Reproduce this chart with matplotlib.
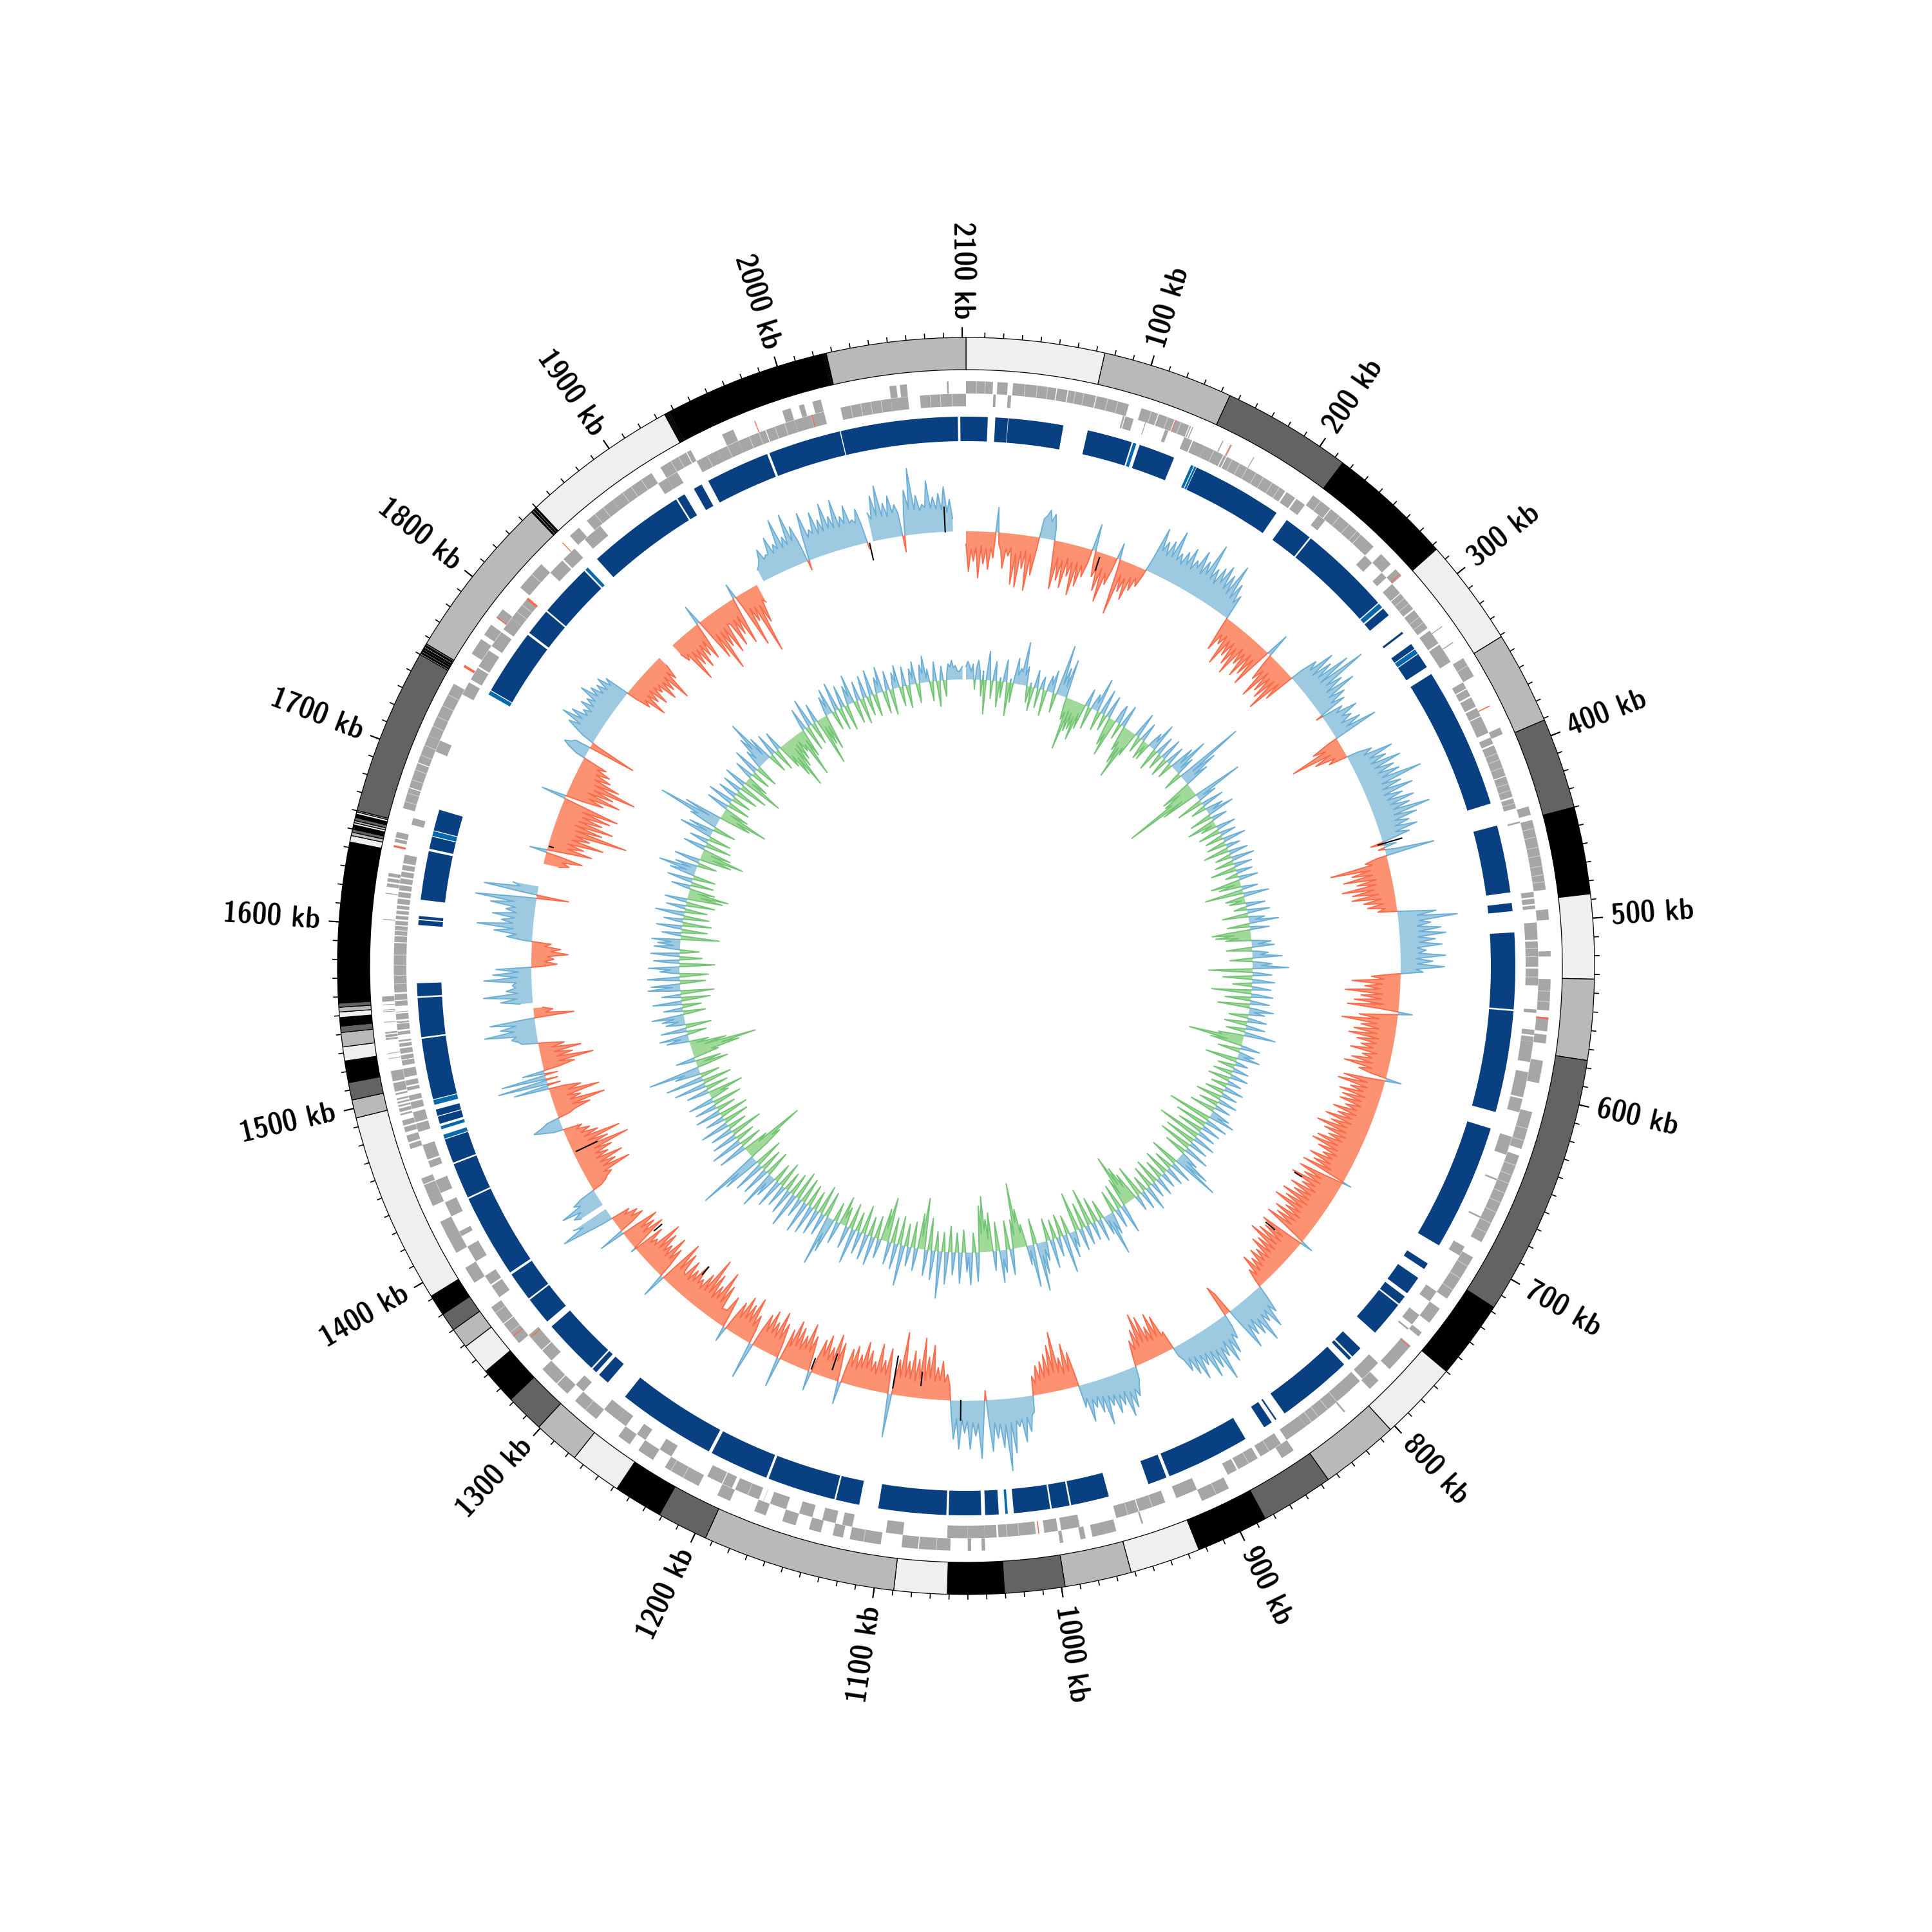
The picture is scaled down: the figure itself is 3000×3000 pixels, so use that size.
#!/bin/env python3

import numpy as np
import matplotlib
matplotlib.use('Agg')
import matplotlib.pyplot as plt

plt.rcParams['font.family'] = ['Latin Modern Sans Demi Cond', 'DejaVu Sans']

genome_kb = 2102.0
n = float('nan')

# outer ring: contig boundaries in kb and their grey level
L, G, D, B = '#efefef', '#b9b9b9', '#636363', '#000000'
contig_edges = [0, 74.6, 145, 215, 283, 341, 391, 440, 487, 532.5, 576, 717.6, 760, 803, 845.5, 885, 924, 962, 998,
                1030.5, 1061, 1089.6, 1194, 1221.5, 1248, 1276, 1301, 1322, 1342, 1359, 1370, 1380, 1391.5, 1494.8,
                1504.6, 1514, 1525.7, 1533.3, 1541, 1544.4, 1549, 1552, 1554.5, 1556.7,
                1643, 1646.5, 1648.3, 1650, 1652.3, 1653.5, 1654.7, 1656.4, 1658.2, 1659.4, 1660.2,
                1750, 1750.7, 1751.4, 1752.1, 1752.8, 1753.5, 1754.2, 1754.9, 1755.6, 1756.6,
                1846.6, 1847.3, 1848, 1848.7, 1849.4, 1850.1,
                1934.7, 1935.2, 1935.7, 1936.2, 1936.7, 1937.2, 1937.7, 1938.6,
                2025, 2025.5, 2026, 2026.5, 2027, 2102]
contig_colors = [L, G, D, B, L, G, D, B, L, G, D, B, L, G, D, B, L, G, D,
                 B, L, G, D, B, L, G, D, B, L, G, D, B, L,
                 G, D, B, L, G, D, B, L, G, D, B,
                 L, G, D, B, L, G, D, B, L, G, D,
                 L, B, G, B, D, B, L, B, D,
                 G, B, L, B, G, B,
                 L, B, L, B, L, B, L, B,
                 B, G, B, G, B, G]

# gene track, outer row
genes_outer = [(0, 15.5), (18, 24), (27, 52), (52.5, 58.5), (59, 75), (75.5, 94.5), (102, 112), (112.5, 122),
               (122.5, 131), (131.5, 132.2), (133, 133.6), (152, 152.6), (157.5, 158), (172, 172.5),
               (212.6, 225), (225.5, 247.8), (248, 258), (264, 272), (276, 281), (318, 318.5), (329, 329.6),
               (340, 352), (385, 389), (433, 438), (441, 481.7), (493, 499), (517, 520), (533, 551),
               (555, 563), (565, 570), (580, 593), (610, 632), (636, 690), (700, 728), (735, 745), (752, 755),
               (762, 780), (789, 796), (815, 816), (852, 860), (895, 912), (948, 949), (964, 978), (982, 985),
               (995, 997), (1040, 1042), (1048, 1050), (1060, 1078), (1078.5, 1088), (1100, 1118), (1122, 1128),
               (1135, 1142), (1150, 1158), (1168, 1175), (1190, 1198), (1210, 1232), (1240, 1250), (1256, 1264),
               (1280, 1296), (1302, 1310), (1310.5, 1322), (1342, 1356), (1356.5, 1368), (1385, 1395), (1405, 1418),
               (1415, 1425), (1435, 1448), (1448.5, 1452), (1470, 1473), (1474, 1478), (1480, 1483), (1484, 1487),
               (1490, 1491), (1492, 1494), (1495, 1496), (1497, 1498), (1499, 1500), (1502, 1503), (1504, 1509),
               (1510, 1516), (1523, 1523.4), (1526, 1526.4), (1534, 1535), (1535.5, 1537), (1537.6, 1538.6),
               (1544, 1544.4), (1550, 1550.4), (1551, 1551.4), (1554, 1554.4), (1556, 1559), (1603, 1603.5),
               (1618, 1618.5), (1622, 1624), (1625, 1627), (1628, 1630), (1648, 1650), (1650.7, 1654),
               (1668, 1680), (1680.5, 1695), (1695.5, 1712), (1712, 1745), (1765, 1775), (1778, 1785),
               (1790, 1796), (1812, 1830), (1853, 1860), (1866, 1885), (1885, 1912), (1918, 1935), (1935.5, 1938),
               (1958, 1965), (1995, 2000), (2005, 2008), (2013, 2018), (2058, 2062), (2064, 2068), (2091, 2092)]

# gene track, inner row
genes_inner = [(16, 17.5), (24.5, 26.5), (93, 94), (94.5, 99.5), (106.5, 107), (119, 121), (131, 136), (136.6, 144),
               (144, 156), (156.5, 158), (158.5, 198), (199, 205), (206, 212), (222, 227), (258, 264), (272, 276),
               (281, 288), (288.5, 300), (301, 314), (316, 325), (326, 338), (352, 356), (356.6, 361), (362, 368),
               (369, 374), (374.5, 385), (388, 392), (393, 412), (412.5, 425), (426, 432), (440, 441), (482, 485),
               (486, 489), (490, 492), (500, 510), (511, 526), (527, 537), (551, 553), (563, 566), (567, 570),
               (570, 582), (588, 598), (596, 603), (604, 612), (627, 638), (653, 654), (677, 678), (697, 703),
               (728, 735), (745, 752), (755, 756), (782, 795), (797, 810), (805, 838), (838, 852), (856, 870),
               (872, 885), (886, 892), (912, 925), (932, 948), (948.5, 962), (984, 995), (997, 1005), (1010, 1032),
               (1033, 1040), (1040, 1050), (1050, 1062), (1088, 1098), (1118, 1124), (1128, 1136), (1142, 1150),
               (1158, 1168), (1175, 1190), (1192, 1198), (1198.5, 1208), (1232, 1240), (1250, 1256), (1264, 1270),
               (1270, 1280), (1296, 1302), (1322, 1330), (1330.5, 1342), (1370, 1378), (1379, 1385), (1395, 1405),
               (1412, 1415), (1425, 1434), (1440, 1448), (1456, 1460), (1461, 1470), (1478, 1483), (1484, 1490),
               (1492, 1496), (1497, 1500), (1503, 1505), (1506, 1509), (1511, 1516), (1518, 1521), (1521.5, 1524),
               (1525, 1528), (1529, 1531), (1532, 1533), (1536, 1538), (1539, 1542.5), (1543, 1544), (1545, 1548.5),
               (1549.3, 1549.7), (1553, 1556), (1556.5, 1560), (1561, 1590), (1590.5, 1594), (1594.6, 1597),
               (1597.5, 1600), (1600.6, 1603), (1604, 1606), (1607, 1609), (1610, 1612), (1613, 1616), (1617, 1620),
               (1621, 1624), (1625, 1628), (1629, 1632), (1633, 1636), (1637, 1642), (1660, 1664), (1705, 1712),
               (1742, 1750), (1752, 1760), (1761, 1772), (1775, 1785), (1787, 1795), (1795, 1810), (1830, 1840),
               (1841, 1850), (1858, 1870), (1912, 1918), (1918, 1925), (1938, 1952), (1952, 1965), (1965, 1982),
               (1982.5, 2000), (2000, 2010), (2010, 2018), (2028, 2058), (2058, 2068), (2075, 2102)]

# pale hairlines between neighbouring genes inside the long strips
breaks_outer = [6, 11, 34, 41, 47, 63, 68, 82, 88, 108, 118, 126, 218, 232, 239, 245, 345, 446, 451, 457, 462, 468,
                473, 477, 540, 546, 620, 627, 642, 648, 653, 659, 665, 671, 678, 684, 706, 714, 722, 903, 1068, 1110,
                1220, 1228, 1288, 1350, 1364, 1672, 1677, 1685, 1691, 1700, 1706, 1718, 1724, 1731, 1738, 1822, 1872,
                1878, 1892, 1898, 1905, 1925, 1930]
breaks_inner = [150, 162, 167, 172, 178, 183, 189, 194, 292, 296, 306, 310, 398, 402, 407, 417, 421, 429, 515, 520,
                532, 815, 822, 829, 834, 864, 878, 940, 955, 1020, 1027, 1172, 1182, 1566, 1571, 1577, 1583, 1800,
                1805, 1945, 1958, 1972, 1978, 1988, 1994, 2034, 2040, 2046, 2052, 2081, 2087, 2094]

# a few red features in the gene track: (start, end, row)
rna_marks = [(122.5, 123, 1), (157, 157.5, 1), (279.5, 280, 1), (371, 371.6, 1), (555, 556, 1), (762.5, 763, 1),
             (1008, 1008.6, 0), (1340, 1340.5, 0), (1347, 1347.5, 1), (1645, 1646.2, 1), (1756, 1757.5, 1),
             (1790, 1790.6, 1), (1809, 1810.5, 0), (1847, 1847.5, 1), (1978, 1978.5, 1), (2010.5, 2011, 0)]

# blue ring: dark blocks and the lighter blocks
blocks_dark = [(0, 13.3), (17.9, 25.6), (25.9, 59.7), (74.8, 102.6), (107.6, 130), (145, 201), (208.6, 226),
               (227, 283.8), (288.5, 293.8), (306.7, 308), (316, 319.5), (323.5, 333), (338, 425), (439, 480.5),
               (487, 492), (505, 552), (553, 615.5), (626, 704), (717, 721), (727.5, 739), (741.5, 747), (748, 770),
               (783, 790), (791, 793), (797, 844), (850, 851), (853.5, 859), (872.4, 924), (926, 937.7), (963, 986.5),
               (987.5, 998.5), (999.5, 1021.8), (1031, 1039.3), (1041.7, 1061.6), (1063, 1104.7), (1116.5, 1131),
               (1132, 1174), (1175.5, 1212), (1214, 1275), (1288.6, 1295.7), (1298, 1301), (1302, 1337), (1341, 1358),
               (1359, 1377), (1378.5, 1430), (1431, 1453), (1454, 1469), (1479, 1483.5), (1484, 1488), (1494.5, 1532),
               (1533, 1557), (1558, 1566), (1601.5, 1604.5), (1605.2, 1607), (1617, 1647), (1648.5, 1656),
               (1660, 1673), (1752.5, 1793), (1794.5, 1811), (1812, 1845), (1855.6, 1916), (1917, 1922),
               (1928.6, 1934), (1938.6, 1978), (1979.5, 2024.4), (2025, 2097), (2098.5, 2102)]
blocks_light = [(103.5, 105.5), (141.3, 143), (143.5, 144.7), (284.5, 287.5), (320, 323), (1656.5, 1659.5),
                (1025.5, 1027), (1469.5, 1472), (1475.5, 1477.5), (1491, 1494), (1749.5, 1752), (1846, 1848)]

# GC skew, one chunk per 100 kb
skew_000 = [-20, -62, -28, -46, -25, -72, -22, -50, -26, -58, -24, -40, 39, -18, -28, -55, -24, -35, -22, -78, -30, -82, -26, -52, -24, -85, -28, -60, -22, 30, 35, 45, 28, 40, 20, -30, -75, -25, -60, -28, -70, -22, -50, -26, -78, -24, -62, -28, -45, -22]
skew_100 = [42, -15, -40, -25, -60, -22, -75, -28, -45, -20, 25, -15, -87, -22, -48, -25, -58, -20, -40, -18, -30, -12, 20, 73, 38, 55, 34, 60, 36, 80, 35, 48, 32, 55, 36, 65, 33, 50, 40, 70, 34, 58, 38, 91, 36, 55, 32, 62, 40, 70]
skew_200 = [34, 60, 30, 82, 28, 55, 25, 40, -18, -55, -25, -40, -22, -70, -26, -50, -24, -60, -28, -72, -22, -48, -26, -65, -20, -55, -24, -68, -20, 38, -15, -45, -25, -72, -22, -55, -26, -62, -24, -77, -22, -50, 20, 45, 30, 70, 28, 60, 32, 85]
skew_300 = [30, 106, 34, 60, 28, 75, 26, 52, 24, 45, -10, 35, 22, 55, 26, 40, 20, 50, 24, 72, -15, -45, -25, -85, -22, -50, -18, -30, 18, 40, 24, 70, 30, 55, 28, 75, 30, 60, 32, 65, 34, 97, 30, 60, 28, 75, 26, 55]
skew_400 = [28, 70, 30, 60, 32, 89, 30, 65, 28, 50, 26, 60, 24, 45, 15, -20, 20, -10, 15, 77, -15, -35, -25, -92, -30, -60, -28, -75, -24, -55, -26, -80, -30, -65, -25, -67, -22, -50, -20, -45, -18, -30, 15, 60, 30, 92, 32, 50, 28, 65]
skew_500 = [30, 72, 28, 55, 30, 65, 26, 40, 28, 70, 24, 50, 26, 68, 24, 35, -15, -45, -25, -75, -28, -55, -30, -85, -26, -60, -28, -70, -24, -80, -22, 22, -20, -60, -28, -86, -30, -55, -26, -65, -28, -72, -24, -58, -26, -50, -30, -65, -22, -45]
skew_600 = [-28, -60, -26, -70, -25, -45, -24, 25, -20, -65, -26, -72, -24, -50, -28, -65, -22, -58, -26, -60, -24, -48, -28, -65, -26, -55, -30, -72, -28, -60, -32, -80, -30, -65, -28, -55, -30, -70, -34, -75, -30, -62, -28, -50, -32, -68, -30, -58, -26, -72]
skew_700 = [14, -30, -72, -32, -60, -30, -77, -34, -55, -28, -70, -32, -60, -30, -75, -28, -65, -32, -79, -30, -55, -26, -68, -28, -60, -30, -72, -26, 20, -24, -70, -28, -60, -26, -65, -28, -75, -24, -55, -26, -60, -22, -45, -24, -50, -20, -40, -18, -50, -16]
skew_800 = [-30, -12, 20, 45, 30, 66, 32, 50, 34, 78, 36, 60, 30, 55, 34, 72, 28, -35, -50, 20, 40, 30, 60, 34, 70, 32, 55, 38, 90, 36, 65, 34, 75, 32, 50, 30, 68, 28, 55, 26, 45, 24, 15, -30, -25, -60, -28, -68, -26, -50]
skew_900 = [-28, -70, -30, -78, -26, -55, -24, -40, -15, 20, 30, 45, 32, 60, 34, 71, 30, 50, 32, 60, 30, 45, 28, 72, 26, 50, 24, 40, 26, 60, 22, 35, -20, -55, -26, -70, -24, -50, -28, -92, -30, -73, -26, -60, -24, -50, -22, -45, -18, -30]
skew_1000 = [25, 30, 55, 32, 70, 34, 45, 36, 85, 38, 112, 40, 75, 38, 60, 36, 80, 35, -15, 34, 90, 36, 55, 34, 75, 32, 50, 30, 75, 28, 60, 22, -25, -40, -28, -60, -30, -50, -28, -84, -32, -65, -28, -94, -30, -60, -26, -72, -28, -55]
skew_1100 = [-30, -99, -28, -55, -26, 68, -22, -70, -28, -50, -30, -74, -26, -45, -28, -60, -32, -72, -30, -50, -26, -62, -28, -55, -24, 35, -22, -60, -30, -71, -28, -48, -26, -65, -30, -55, -24, 30, -22, -55, -28, -72, -30, -50, -26, -60, -28, -68, -24, -50]
skew_1200 = [47, -22, -55, -28, -70, -26, -50, -30, -65, -28, -55, -24, 58, -22, -45, -26, -70, -28, -55, -30, -64, -26, -50, -22, 24, -18, -50, -24, -24, -22, -60, -28, -79, -30, -50, -26, -65, -30, -87, -28, -55, -26, -40, -30, -60, -28, -45, -24, -55, -26]
skew_1300 = [-30, -60, -28, -73, -26, 38, -22, -50, -28, -65, -26, -45, -30, -60, -28, -72, -26, -35, -24, -50, 8, -28, -60, -26, -50, -28, -60, -24, 41, -22, -45, -26, -40, -20, -30, 18, 50, 83, 45, 60, n, 40, 50, 35, 65, 30, 40, 25, -15, -25]
skew_1400 = [-30, -40, -28, -75, -32, -55, -30, -70, -28, -50, -30, -60, -32, -91, -30, -60, -28, -83, -26, -50, -24, -40, -20, -30, 15, 30, 45, 30, 20, -18, -30, -55, -28, -81, -26, -45, -24, -77, -28, -50, -26, 55, -20, 78, -18, 70, -20, 35, -24, -50]
skew_1500 = [-26, -81, -24, -50, -22, -65, -20, -40, -15, 25, 30, 40, 32, 81, 34, 55, 30, 70, 15, -62, -18, -30, -15, n, 20, 50, 24, 76, 22, 40, 25, 30, 24, 74, 22, 60, 20, 55, -15, -40, -20, -35, -25, -57, -30, -45, -20, -30, 15, 40]
skew_1600 = [25, 60, 30, 87, 32, 50, 30, 65, 28, 45, 30, 70, 34, 95, 30, -50, 26, 84, 28, 40, n, n, n, n, n, n, n, n, -25, -40, -28, -59, -26, 27, -24, -70, -30, -55, -28, -84, -32, -60, -36, -117, -34, -75, -30, -90, -34, -70]
skew_1700 = [-36, -80, -34, -90, -30, 39, -28, -60, -34, -84, -30, -70, -36, -103, -34, -73, -30, -55, -28, -50, -26, -40, 15, 30, 40, 30, 25, -75, -10, 20, 35, 50, 32, 66, 34, 55, 30, 40, 28, 50, 30, 45, 32, 62, 34, 50, 30, 45, 28, 50]
skew_1800 = [28, 40, -15, -40, -28, -63, -26, -45, -24, -55, -26, -40, -28, -60, -30, -50, -26, -72, -24, -40, -16, n, n, n, n, n, n, -20, -35, -26, -77, -28, -55, -30, -65, -28, -50, -26, -60, -24, 32, -22, -70, -30, -95, -32, -60, -30, -75, -28]
skew_1900 = [-30, -70, -28, -55, -26, -75, -24, 24, -20, -87, -26, -50, -28, -106, -30, -60, -24, -30, n, n, 20, 25, 32, 48, 30, 35, 34, 60, 32, 45, 36, 82, 34, 50, 36, 83, 38, 60, 34, -15, 36, 75, 34, 45, 38, 70, 34, 55, 36, 78]
skew_2000 = [38, 55, 36, 79, 34, 50, 38, 65, 36, 40, 34, 55, 30, -10, n, 45, 34, 70, 38, 84, 36, 55, 34, 65, 38, 50, 36, -25, 34, 70, 40, 103, 38, 60, 36, 45, 40, 81, 38, 55, 36, 60, 34, 70, 30, 50, 20, n, n, n]

# GC content deviation, one chunk per 100 kb
gc_000 = [20, 28, 22, 12, 24, -15, 18, 30, 15, -25, 14, -53, 10, 45, 12, -28, 8, 30, -10, -40, 6, -25, 10, 35, -8, -52, 6, -30, 12, 40, 14, 25, 20, 67, 16, 30, -8, -25, 6, -37, -6, 28, 8, -30, 10, 20, -8, -40, 10, 25]
gc_100 = [12, 35, -8, -30, 14, 79, 18, 45, 16, 60, -12, -35, -22, -81, -18, -50, -20, -45, -24, -60, -16, -40, 6, 28, -8, -35, 10, 25, 12, 53, -8, -30, 10, 40, -6, -25, 14, 35, -20, -45, -26, -60, 18, 30, 12, -25, 10, 35, -12, -40]
gc_200 = [-24, -60, -32, -82, -28, -40, 10, 40, -6, -25, 8, 30, -8, -30, -6, -28, 8, 25, 12, 45, -10, -35, 8, 30, -8, -25, 10, 35, -10, -30, 8, 30, -6, -25, 10, 40, 14, 60, 10, 30, -12, -30, 16, 110, 20, 60, 18, 40, -10, -50]
gc_300 = [-20, -50, -40, -120, -24, -60, 12, 78, 10, 30, -10, -42, 8, 35, -6, -24, 8, 28, 10, 43, -8, -35, 8, 25, -10, -45, -6, -25, 8, 30, -8, -34, 6, 25, -8, -28, 10, 36, -8, -30, 8, 22, -10, -40, 8, 30, -6, -25, 10, 36]
gc_400 = [-8, -30, 8, 28, -10, -40, 6, 25, -6, -20, 8, 30, -12, -47, -10, -35, 6, 25, -16, -60, 10, 40, -8, -30, -6, -25, 8, 30, -6, -20, 10, 35, -10, -40, 6, 25, 10, 46, -8, -35, 8, 30, -30, -60, -26, -55, -20, -40, 8, 30]
gc_500 = [10, 35, -10, -40, 8, 25, 12, 46, -8, -35, 8, 30, 14, 56, -14, -68, 8, 30, -10, -46, 10, 35, -8, -30, 8, 30, -14, -62, 8, 34, -10, -40, 8, 30, -12, -50, 10, 38, 8, 25, -8, -30, 10, 30, -10, -35, 6, 30]
gc_600 = [-8, -30, 12, 49, -12, -40, -34, -85, -24, -50, 8, 30, -8, -35, 6, 25, 10, 35, -12, -50, 6, 20, -6, -27, 6, 25, -8, -30, 8, 28, -8, -34, 6, 22, -6, -25, 8, 30, -8, -30, 6, 25, -10, -40, 8, 30, -8, -30, 6, 25]
gc_700 = [-10, -40, 8, 30, 12, 41, -16, -68, 10, 35, -12, -50, 8, 30, -10, -40, 8, 28, -16, -68, 10, 35, -12, -49, 8, 30, -12, -52, 10, 40, -8, -35, 8, 30, 14, 55, 16, 75, -10, -45, 8, 35, -8, -30, 10, 30, -10, -40, 6, 25]
gc_800 = [-8, -30, 8, 30, -10, -40, 6, 25, -8, -35, 10, 40, -6, -25, 8, 30, -12, -50, 8, 25, -14, -45, -24, -60, -32, -82, -18, -45, 12, 46, -10, -40, 8, 30, -8, -35, 10, 35, 14, 66, 8, 30, -8, -30, 10, 35, -10, -40, 8, 28]
gc_900 = [-14, -59, 8, 30, -10, -40, 8, 35, -14, -61, 6, 25, 10, 40, -8, -30, 14, 60, -10, -35, 8, 30, -8, -30, 10, 45, -10, -35, 8, 30, 12, 50, 20, 75, -12, -40, 14, 66, 8, 30, -10, -35, -22, -60, -40, -101, -20, -45, 10, 40]
gc_1000 = [-12, -45, 10, 35, 14, 50, -12, -45, 8, 30, -16, -60, -20, -50, -34, -86, -28, -72, 14, 45, -8, -30, 16, 50, 8, 30, -10, -35, 14, 48, -8, -30, 10, 35, -12, -40, 16, 50, -8, -30, 20, 73, -8, -30, 14, 45, -14, -50, 12, 40]
gc_1100 = [-24, -80, -20, -55, 10, 35, -12, -40, 8, 30, -10, -35, 20, 63, -12, -45, 12, 40, -12, -40, 10, 35, -30, -69, -20, -50, 8, 30, -10, -35, 12, 45, -8, -30, 10, 40, -12, -45, 10, 35, -8, -30, 14, 55, -10, -40, 10, 35, -8, -30]
gc_1200 = [-12, -45, 10, 35, -8, -30, 16, 55, 26, 79, -12, -40, 10, 35, -12, -45, 10, 40, -8, -30, 12, 45, -10, -35, 14, 50, -10, -40, 8, 30, -12, -45, 16, 55, -10, -35, 10, 40, -8, -30, 10, 35, -10, -40, 12, 45, -8, -30, 10, 35]
gc_1300 = [14, 60, -10, -40, 12, 45, -10, -35, 14, 50, -12, -45, 16, 60, 34, 99, -30, -60, -46, -100, -24, -40, 12, 45, -10, -35, 14, 50, -8, -30, 12, 40, -14, -50, 10, 35, -8, -30, 12, 45, -10, -40, 10, 30, -12, -45, 10, 40]
gc_1400 = [-8, -30, 10, 35, -12, -45, 10, 40, -8, -30, -18, -55, 10, 35, -10, -35, 14, 50, -12, -45, 16, 59, -8, -30, 12, 40, 24, 80, -16, -50, -12, -40, 10, 30, -10, -40, -30, -75, -48, -103, -22, -57, -10, -30, 10, 35, 12, 45, -8, -30]
gc_1500 = [12, 40, -10, -40, 10, 30, 10, 35, 16, 50, -10, -35, 8, 30, -8, -30, 12, 45, -12, -45, 8, 30, -14, -52, 14, 50, 12, 45, -10, -40, 14, 50, -12, -45, 8, 30, 14, 48, -14, -55, 12, 40, -10, -35, 14, 45, -10, -30, 12, 40]
gc_1600 = [10, 35, 14, 45, -16, -60, 8, 30, -12, -40, 12, 40, -12, -45, 8, 30, -10, -40, 14, 45, -8, -35, 8, 30, -12, -45, 10, 35, -16, -55, -20, -63, -14, -40, 8, 30, -10, -35, 12, 40, -10, -35, 10, 40, 14, 59, 10, 35, -10, -30]
gc_1700 = [12, 40, -14, -50, -20, -68, -14, -45, 10, 35, -10, -40, 8, 30, -10, -35, 14, 52, 10, 40, -10, -35, 12, 45, 34, 100, 18, 60, -14, -50, -26, -75, -12, -40, 10, 35, -10, -35, 12, 40, -8, -30, 10, 30, -10, -35, 8, 30]
gc_1800 = [-12, -45, 10, 35, -16, -64, -10, -35, 8, 30, -8, -30, 12, 41, -10, -35, 8, 30, 14, 50, 28, 74, 12, 40, -8, -30, 10, 35, -10, -35, 8, 30, -10, -40, -22, -60, -30, -82, -16, -50, -12, -40, -10, -30, -20, -75, -16, -45]
gc_1900 = [10, 35, -10, -40, 12, 45, -10, -35, 8, 30, -20, -75, -14, -45, -16, -55, 8, 30, 12, 40, -8, -30, 12, 45, -10, -35, 10, 35, -10, -40, 8, 30, 12, 45, -10, -35, 8, 30, -12, -40, 10, 35, -8, -30, 12, 40, -10, -35, 8, 25]
gc_2000 = [12, 40, -10, -35, 8, 30, -10, -40, 6, 25, 10, 35, -8, -30, 8, 30, -10, -35, 6, 25, 10, 35, -8, -30, 8, 28, 14, 41, 6, 20, -8, -30, 8, 30, -10, -40, 6, 22, -8, -25, 10, 25, 20, 30, 18, 22, 14, 12, 16, 20]

skew_chunks = [skew_000, skew_100, skew_200, skew_300, skew_400, skew_500, skew_600, skew_700, skew_800, skew_900,
               skew_1000, skew_1100, skew_1200, skew_1300, skew_1400, skew_1500, skew_1600, skew_1700, skew_1800,
               skew_1900, skew_2000]
gc_chunks = [gc_000, gc_100, gc_200, gc_300, gc_400, gc_500, gc_600, gc_700, gc_800, gc_900,
             gc_1000, gc_1100, gc_1200, gc_1300, gc_1400, gc_1500, gc_1600, gc_1700, gc_1800, gc_1900, gc_2000]

# short black marks sitting on the outer skew ring: (position, from, to)
black_marks = [(105.7, -8, -28), (430, -8, 30), (713, -60, -72), (762, -45, -62), (1055, 0, 30), (1086.8, -20, -40),
               (1108.5, -10, -60), (1158, -15, -40), (1173.6, -5, -22), (1287.6, -45, -60), (1341, -40, -55),
               (1428, -5, -40), (1670, -2, -8), (2027, -2, -28), (2086, 0, 38)]

tick_step = 10
major_step = 100


def to_theta(kb):
    return np.deg2rad(np.asarray(kb, dtype=float) / genome_kb * 360.0)


def draw_blocks(ax, spans, r_in, r_out, color, lw=0):
    starts = np.array([s[0] for s in spans])
    ends = np.array([s[1] for s in spans])
    ax.bar(to_theta(starts), r_out - r_in, width=to_theta(ends - starts), bottom=r_in, align='edge',
           color=color, linewidth=lw, edgecolor='black')


def with_crossings(chunks):
    # put a zero between neighbours of opposite sign so the two colours split on the baseline
    xs, ys = [], []
    for c, chunk in enumerate(chunks):
        step = 100.0 / len(chunk)
        for i, v in enumerate(chunk):
            x = c * 100.0 + i * step
            if ys and ys[-1] * v < 0:
                p = ys[-1]
                xs.append(xs[-1] + (x - xs[-1]) * abs(p) / (abs(p) + abs(v)))
                ys.append(0.0)
            xs.append(x)
            ys.append(v)
    return np.array(xs), np.array(ys)


def draw_skew(ax, chunks, base, up_line, up_fill, down_line, down_fill):
    xs, ys = with_crossings(chunks)
    th = to_theta(xs)
    ok = ~np.isnan(ys)
    ax.fill_between(th, base, base + np.where(ys > 0, ys, 0), where=ok & (ys >= 0), color=up_fill, linewidth=0, zorder=2)
    ax.fill_between(th, base, base + np.where(ys < 0, ys, 0), where=ok & (ys <= 0), color=down_fill, linewidth=0, zorder=2)
    ax.plot(th, np.where(ys >= 0, base + ys, np.nan), color=up_line, lw=0.45, zorder=3)
    ax.plot(th, np.where(ys <= 0, base + ys, np.nan), color=down_line, lw=0.45, zorder=3)


fig = plt.figure(figsize=(10, 10), dpi=300)
ax = fig.add_axes([0, 0, 1, 1], projection='polar')
ax.set_theta_zero_location('N')
ax.set_theta_direction(-1)
ax.set_ylim(0, 1500)
ax.axis('off')

# contig ring
for i, color in enumerate(contig_colors):
    draw_blocks(ax, [(contig_edges[i], contig_edges[i + 1])], 926, 976, color, lw=0.3)

# ticks and labels
minor_ticks = np.arange(tick_step, genome_kb, tick_step)
ax.vlines(to_theta(minor_ticks), 976, 984, color='black', lw=0.4)
major_ticks = np.arange(major_step, genome_kb, major_step)
ax.vlines(to_theta(major_ticks), 976, 992, color='black', lw=0.5)
for kb in major_ticks:
    deg = kb / genome_kb * 360.0
    if deg <= 180:
        rot, ha = 90 - deg, 'left'
    else:
        rot, ha = 270 - deg, 'right'
    ax.text(to_theta(kb), 1005, '%d kb' % kb, rotation=rot, rotation_mode='anchor', ha=ha, va='center', fontsize=11.5)

# gene track
draw_blocks(ax, genes_outer, 889, 908, '#a6a6a6')
draw_blocks(ax, genes_inner, 869, 888.5, '#a6a6a6')
ax.vlines(to_theta(breaks_outer), 889, 908, color='#d4d4d4', lw=0.25)
ax.vlines(to_theta(breaks_inner), 869, 888.5, color='#d4d4d4', lw=0.25)
for start, end, row in rna_marks:
    if row:
        draw_blocks(ax, [(start, end)], 889, 908, '#fb6a4a')
    else:
        draw_blocks(ax, [(start, end)], 869, 888.5, '#fb6a4a')

# blue ring
draw_blocks(ax, blocks_dark, 815, 853, '#084081')
draw_blocks(ax, blocks_light, 815, 853, '#0868ac')

# skew rings
draw_skew(ax, skew_chunks, 675, '#6baed6', '#9ecae1', '#fb6a4a', '#fc9272')
draw_skew(ax, gc_chunks, 445, '#6baed6', '#9ecae1', '#74c476', '#a1d99b')
for kb, r0, r1 in black_marks:
    ax.plot([to_theta(kb)] * 2, [675 + r0, 675 + r1], color='black', lw=0.5, zorder=4)

fig.savefig('out.png', dpi=300)
